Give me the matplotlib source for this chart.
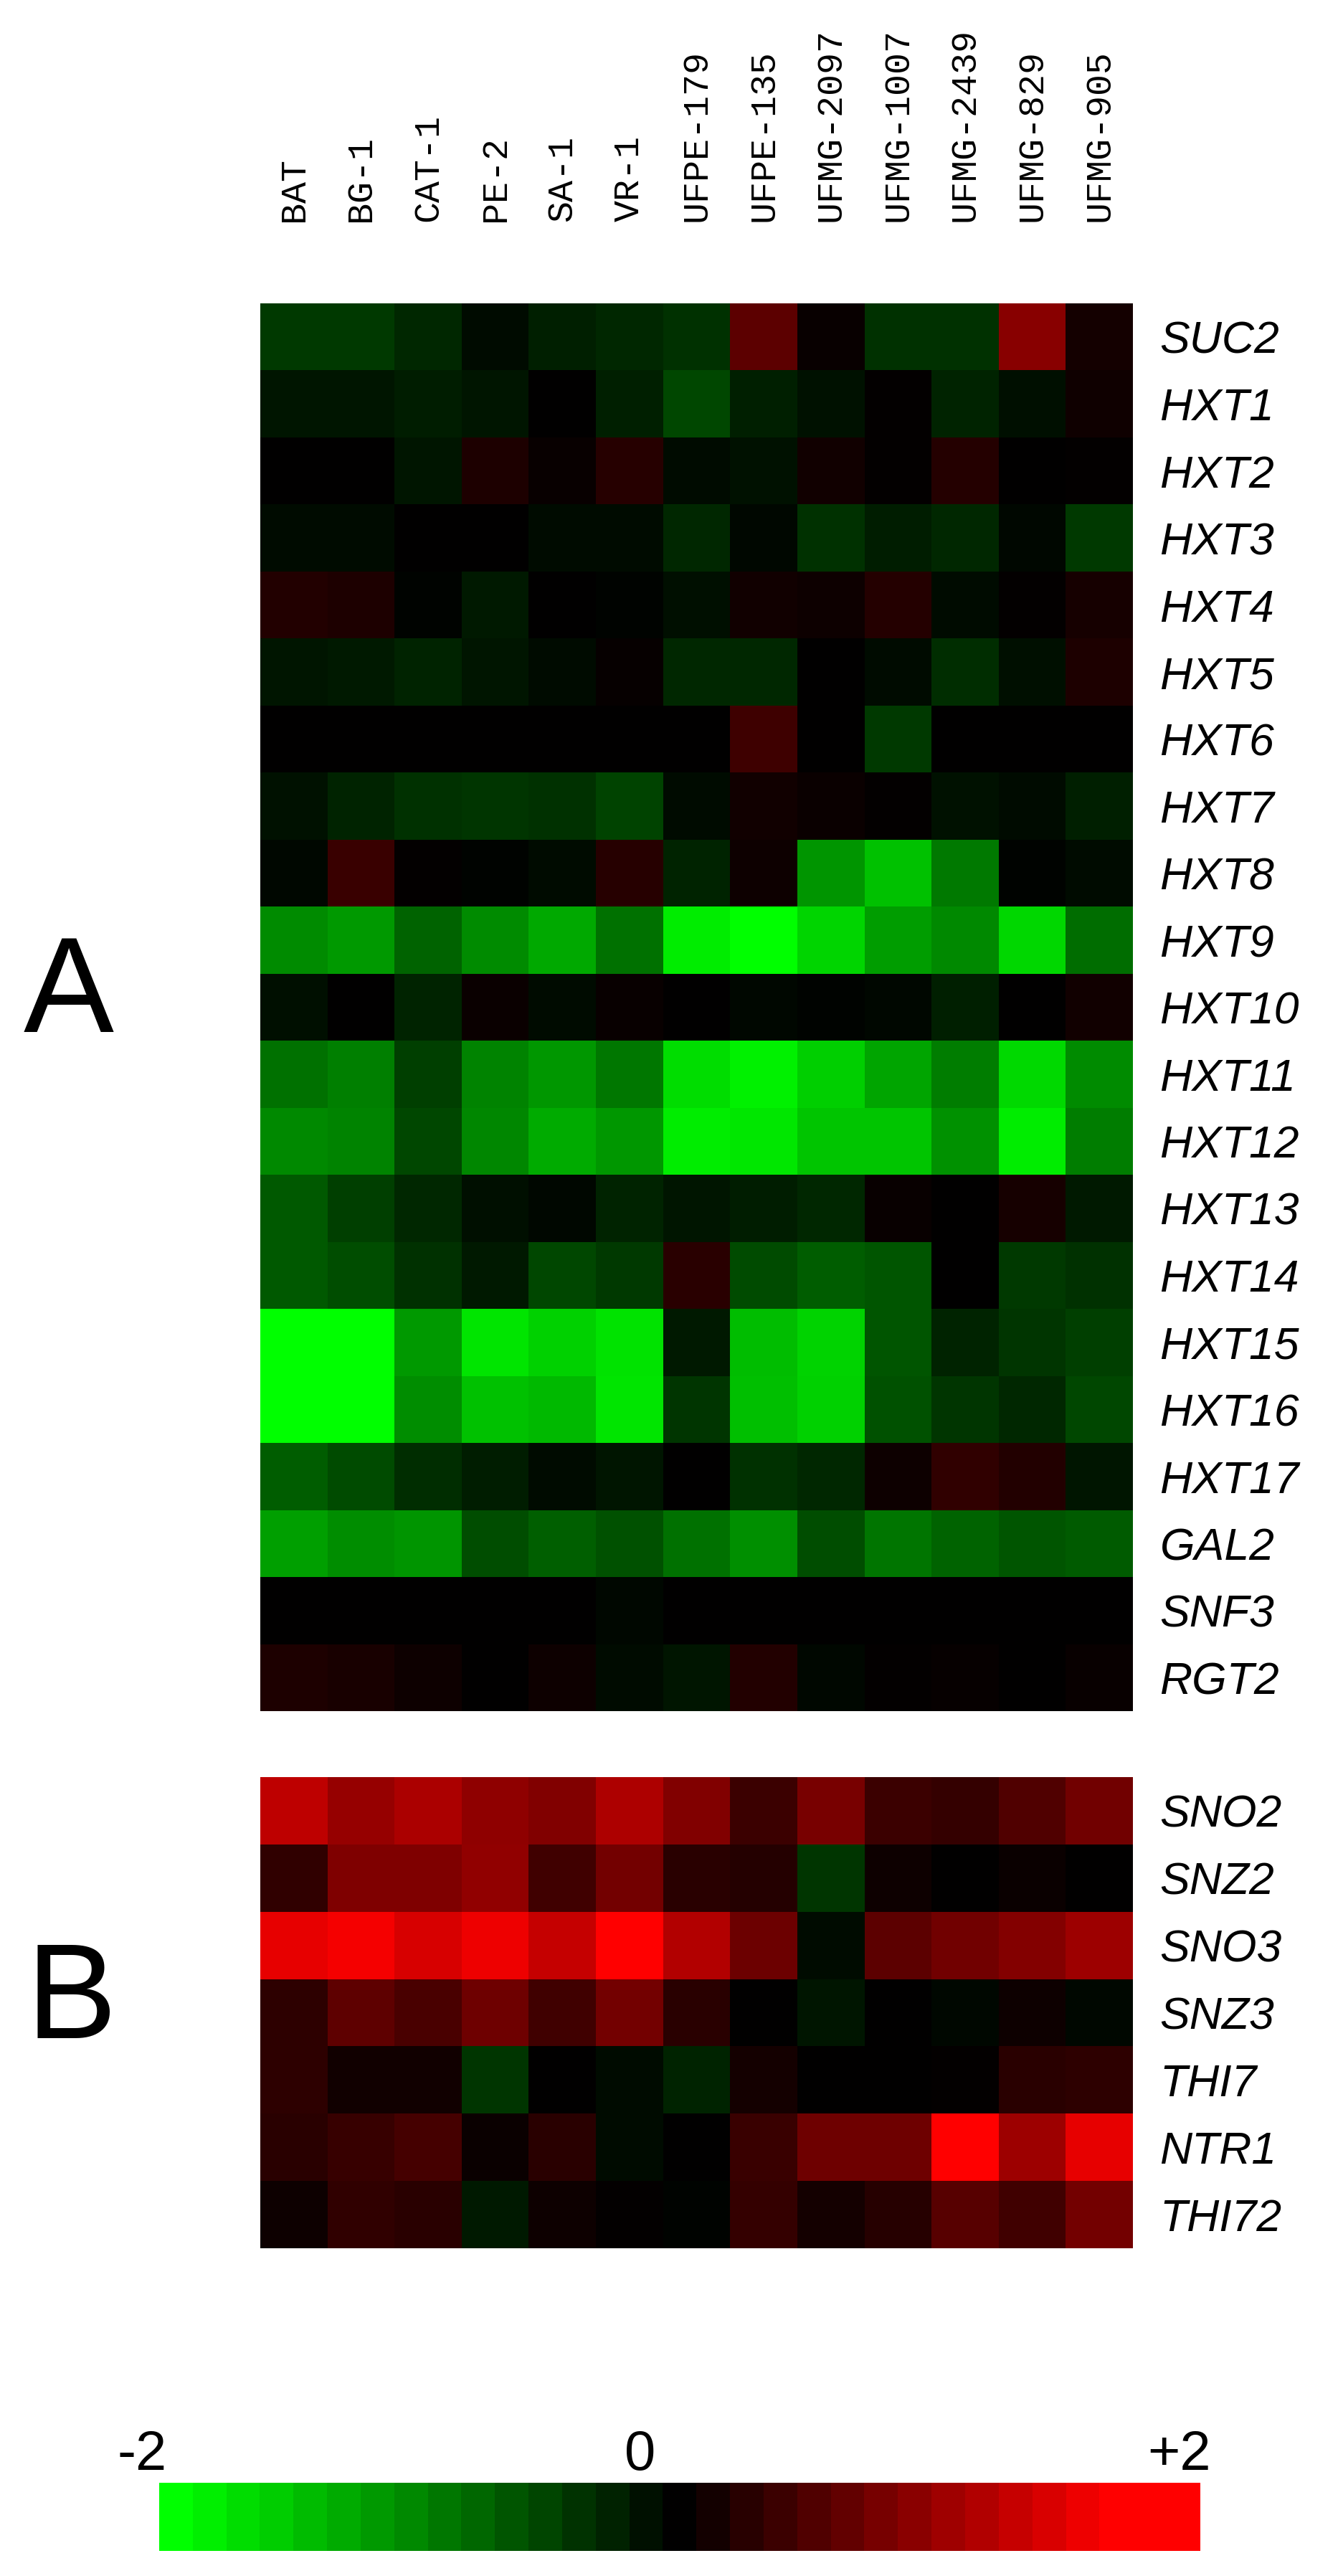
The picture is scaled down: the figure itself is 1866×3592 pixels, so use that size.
import numpy as np
import matplotlib
matplotlib.use("Agg")
import matplotlib.pyplot as plt
from matplotlib.colors import LinearSegmentedColormap, Normalize

strains = ["BAT", "BG-1", "CAT-1", "PE-2", "SA-1", "VR-1", "UFPE-179", "UFPE-135",
           "UFMG-2097", "UFMG-1007", "UFMG-2439", "UFMG-829", "UFMG-905"]

genes_a = ["SUC2", "HXT1", "HXT2", "HXT3", "HXT4", "HXT5", "HXT6", "HXT7", "HXT8",
           "HXT9", "HXT10", "HXT11", "HXT12", "HXT13", "HXT14", "HXT15", "HXT16",
           "HXT17", "GAL2", "SNF3", "RGT2"]
genes_b = ["SNO2", "SNZ2", "SNO3", "SNZ3", "THI7", "NTR1", "THI72"]

# log ratios (green = negative, red = positive)
values_a = np.array([
    [-0.44, -0.45, -0.31, -0.08, -0.25, -0.31, -0.39, 0.61, 0.05, -0.38, -0.39, 0.91, 0.13],
    [-0.17, -0.17, -0.22, -0.17, 0.00, -0.24, -0.56, -0.24, -0.14, 0.03, -0.28, -0.11, 0.10],
    [0.00, 0.00, -0.16, 0.20, 0.05, 0.26, -0.09, -0.13, 0.12, 0.03, 0.24, 0.00, 0.03],
    [-0.09, -0.09, 0.00, 0.00, -0.09, -0.08, -0.30, -0.06, -0.38, -0.22, -0.31, -0.06, -0.44],
    [0.23, 0.19, -0.03, -0.19, 0.00, -0.03, -0.11, 0.12, 0.08, 0.24, -0.08, 0.03, 0.15],
    [-0.16, -0.20, -0.27, -0.16, -0.08, 0.04, -0.30, -0.30, 0.00, -0.09, -0.35, -0.11, 0.20],
    [0.00, 0.00, 0.00, 0.00, 0.00, 0.00, 0.00, 0.42, 0.00, -0.44, 0.00, 0.00, 0.00],
    [-0.13, -0.28, -0.38, -0.41, -0.39, -0.52, -0.09, 0.11, 0.07, 0.03, -0.14, -0.08, -0.25],
    [-0.06, 0.39, 0.03, -0.03, -0.08, 0.26, -0.28, 0.08, -1.16, -1.51, -0.94, -0.03, -0.08],
    [-1.08, -1.19, -0.78, -1.08, -1.32, -0.88, -1.85, -2.00, -1.66, -1.22, -1.07, -1.68, -0.85],
    [-0.11, 0.00, -0.28, 0.07, -0.08, 0.05, 0.00, -0.05, -0.03, -0.06, -0.24, 0.00, 0.12],
    [-0.88, -1.00, -0.50, -1.02, -1.18, -0.93, -1.73, -1.88, -1.62, -1.29, -0.97, -1.69, -1.08],
    [-1.07, -1.02, -0.56, -1.05, -1.33, -1.18, -1.85, -1.80, -1.54, -1.54, -1.13, -1.85, -0.97],
    [-0.69, -0.49, -0.30, -0.11, -0.06, -0.27, -0.16, -0.22, -0.31, 0.05, 0.00, 0.15, -0.19],
    [-0.69, -0.60, -0.39, -0.20, -0.56, -0.44, 0.27, -0.58, -0.72, -0.67, 0.00, -0.45, -0.38],
    [-2.00, -2.00, -1.19, -1.79, -1.63, -1.77, -0.19, -1.47, -1.65, -0.66, -0.28, -0.42, -0.49],
    [-2.00, -2.00, -1.10, -1.51, -1.44, -1.79, -0.41, -1.49, -1.63, -0.63, -0.41, -0.31, -0.56],
    [-0.72, -0.58, -0.35, -0.22, -0.09, -0.16, 0.00, -0.38, -0.30, 0.09, 0.32, 0.23, -0.16],
    [-1.25, -1.10, -1.16, -0.60, -0.74, -0.64, -0.88, -1.11, -0.60, -0.91, -0.78, -0.66, -0.71],
    [0.00, 0.00, 0.00, 0.00, 0.00, -0.05, 0.00, 0.00, 0.00, 0.00, 0.00, 0.00, 0.00],
    [0.20, 0.16, 0.09, 0.00, 0.09, -0.08, -0.17, 0.23, -0.05, 0.03, 0.04, 0.00, 0.05],
])

values_b = np.array([
    [1.28, 1.01, 1.15, 0.96, 0.86, 1.17, 0.86, 0.40, 0.81, 0.40, 0.35, 0.54, 0.76],
    [0.32, 0.85, 0.85, 0.97, 0.43, 0.78, 0.27, 0.24, -0.41, 0.09, 0.00, 0.07, 0.00],
    [1.56, 1.65, 1.44, 1.60, 1.32, 1.80, 1.19, 0.73, -0.09, 0.61, 0.76, 0.88, 1.05],
    [0.31, 0.63, 0.49, 0.74, 0.43, 0.78, 0.27, 0.00, -0.17, 0.00, -0.05, 0.08, -0.06],
    [0.30, 0.12, 0.12, -0.42, 0.00, -0.09, -0.28, 0.13, 0.00, 0.01, 0.03, 0.27, 0.31],
    [0.27, 0.36, 0.46, 0.07, 0.27, -0.09, 0.00, 0.38, 0.74, 0.74, 1.85, 1.05, 1.56],
    [0.09, 0.32, 0.27, -0.19, 0.08, 0.03, -0.03, 0.35, 0.13, 0.26, 0.59, 0.43, 0.78],
])

scale_min, scale_max = -2, 2
scale_labels = ["-2", "0", "+2"]

cmap = LinearSegmentedColormap.from_list(
    "gbr", [(0.0, (0, 1, 0)), (0.5, (0, 0, 0)), (0.93, (1, 0, 0)), (1.0, (1, 0, 0))])
norm = Normalize(scale_min, scale_max)

W, H = 1866, 3592
fig = plt.figure(figsize=(W / 100, H / 100), dpi=100)

def box(x0, y0, x1, y1):
    # pixel box (top-left origin) -> figure fraction rect
    return [x0 / W, 1 - y1 / H, (x1 - x0) / W, (y1 - y0) / H]

ax_a = fig.add_axes(box(363, 423, 1580, 2386))
ax_b = fig.add_axes(box(363, 2478, 1580, 3135))

for ax, vals, genes in [(ax_a, values_a, genes_a), (ax_b, values_b, genes_b)]:
    ax.pcolormesh(vals, cmap=cmap, norm=norm)
    ax.set_xlim(0, len(strains))
    ax.set_ylim(len(genes), 0)
    ax.yaxis.tick_right()
    ax.set_yticks(np.arange(len(genes)) + 0.5)
    ax.set_yticklabels(genes, fontsize=45, style="italic", family="Liberation Sans")
    ax.tick_params(axis="y", length=0, pad=27)
    ax.set_xticks([])
    for s in ax.spines.values():
        s.set_visible(False)

# strain names above panel A
for i, name in enumerate(strains):
    ax_a.text(i + 0.5, 1.058, name, transform=ax_a.get_xaxis_transform(),
              rotation=90, ha="center", va="bottom", fontsize=36,
              family="Liberation Mono")

fig.text(96 / W, 1 - 1439 / H, "A", fontsize=136, ha="center", va="baseline", family="Liberation Sans")
fig.text(100 / W, 1 - 2842 / H, "B", fontsize=136, ha="center", va="baseline", family="Liberation Sans")

# colour scale
cax = fig.add_axes(box(222, 3462, 1674, 3557))
levels = np.linspace(scale_min, scale_max, 31)
cax.imshow(levels[None, :], cmap=cmap, norm=norm, aspect="auto", interpolation="nearest")
cax.set_axis_off()

for xp, lab in zip([198, 893, 1644], scale_labels):
    fig.text(xp / W, 1 - 3444 / H, lab, fontsize=56, ha="center", va="baseline", family="Liberation Sans")

fig.savefig("out.png", dpi=100, facecolor="white")
